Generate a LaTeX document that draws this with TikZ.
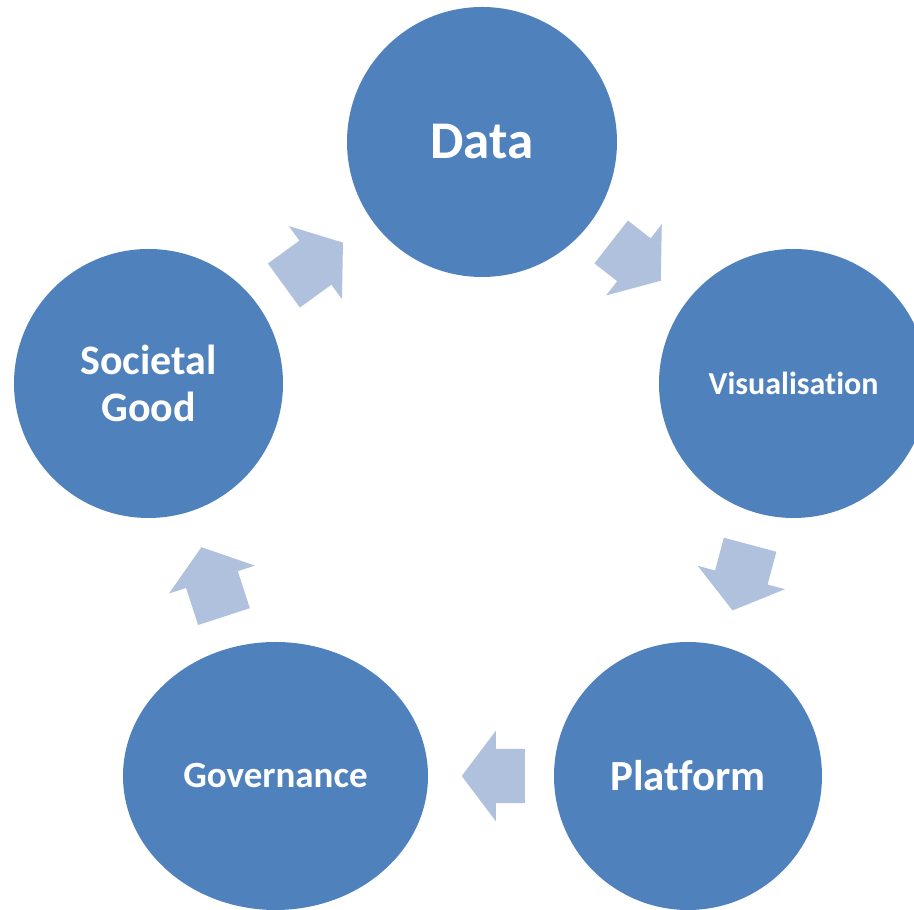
\documentclass[tikz,border=0pt]{standalone}
\usepackage{fontspec}
\setmainfont{Carlito}[Ligatures=NoCommon]
\usetikzlibrary{shapes.geometric, shapes.arrows, calc}
\definecolor{my_blue}{HTML}{4F81BD}
\definecolor{my_lightblue}{HTML}{B0C1DE}

\begin{document}
\begin{tikzpicture}[
    x=1pt, y=1pt,
    stage/.style={circle, fill=my_blue, text=white, inner sep=0pt, align=center},
    flow/.style={single arrow, fill=my_lightblue, inner xsep=0pt, inner ysep=27pt,
        single arrow head extend=18pt, single arrow tip angle=106,
        rotate=#1, xshift=-12.5pt}
]
\useasboundingbox (0, 0) rectangle (914, 910);
\clip (0, 0) rectangle (914, 910);

% ---- Kreise ----
\node[stage, minimum size=270pt, font=\bfseries\fontsize{53}{58}\selectfont]
    (data) at (482, 768) {Data};
\node[stage, minimum size=269pt, font=\bfseries\fontsize{32}{36}\selectfont]
    (vis) at (793.5, 526.5) {Visualisation};
\node[stage, minimum size=268pt, font=\bfseries\fontsize{43}{48}\selectfont]
    (plat) at (688, 134) {Platform};
\node[stage, ellipse, minimum width=305pt, minimum height=268pt,
    font=\bfseries\fontsize{37}{42}\selectfont]
    (gov) at (275.5, 134) {Governance};
\node[stage, minimum size=269pt, font=\bfseries\fontsize{42}{47}\selectfont]
    (sg) at (148.5, 526.5) {Societal\\Good};

% ---- Pfeile ----
\node[flow=36, minimum height=73pt] (a1) at ($(sg)!0.5!(data)$) {};
\node[flow=-38, minimum height=63pt] (a2) at ($(data)!0.5!(vis)$) {};
\node[flow=-105, minimum height=68pt] (a3) at ($(vis)!0.5!(plat)$) {};
\node[flow=180, minimum height=63pt] (a4) at ($(plat.west)!0.5!(gov.east)$) {};
\node[flow=108, minimum height=73pt] (a5) at ($(gov)!0.5!(sg)$) {};

\end{tikzpicture}
\end{document}
